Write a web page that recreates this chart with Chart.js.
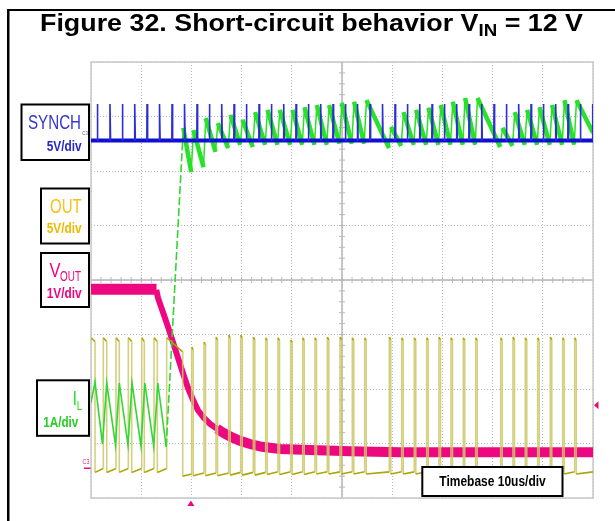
<!DOCTYPE html>
<html><head><meta charset="utf-8">
<script src="https://cdn.jsdelivr.net/npm/chart.js@4"></script>
<style>html,body{margin:0;padding:0;background:#fff;overflow:hidden}canvas{display:block}</style>
</head><body>
<canvas id="c" width="615" height="521"></canvas>
<script>
// ---- data (time in us, amplitude in screen divisions) ----
const synchBase = 6.56;
const synchTop = 7.23;
const synchSpikes = [1.25,3.78,6.24,8.71,11.16,13.65,16.14,18.63,21.12,23.57,26.04,28.49,30.94,33.47,35.92,38.39,40.84,43.29,45.76,48.21,50.66,53.09,55.58,58.07,60.56,63.01,65.48,67.93,70.38,72.85,75.30,77.83,80.28,82.73,85.20,87.65,90.10,92.57,95.02,97.47,99.94];

const ilPre = [[0,1.75],[0.80,2.13],[2.29,0.99],[3.13,2.11],[4.88,0.97],[5.64,2.11],[7.37,0.97],[8.17,2.11],[9.96,0.95],[10.72,2.11],[12.49,0.95],[13.31,2.11],[14.98,0.94],[18.39,6.79]];
const ilPost = [[18.39,6.79],[19.96,5.98],[20.42,6.75],[22.41,6.07],[22.87,6.97],[24.80,6.35],[25.26,6.88],[27.33,6.42],[27.79,7.03],[29.72,6.48],[30.18,6.94],[32.23,6.44],[32.69,7.08],[34.70,6.48],[35.16,7.12],[37.15,6.48],[37.61,7.12],[39.68,6.48],[40.14,7.12],[42.07,6.48],[42.53,7.17],[44.52,6.48],[44.98,7.21],[46.97,6.48],[47.43,7.21],[49.50,6.50],[49.96,7.25],[51.95,6.50],[52.41,7.27],[54.42,6.50],[54.88,7.30],[59.36,6.42],[59.76,6.81],[61.79,6.46],[62.25,7.08],[64.30,6.48],[64.76,7.12],[66.77,6.48],[67.23,7.16],[69.22,6.48],[69.68,7.21],[71.61,6.48],[72.07,7.27],[74.06,6.48],[74.52,7.34],[76.53,6.48],[76.99,7.34],[81.51,6.44],[81.97,6.79],[83.96,6.46],[84.42,7.08],[86.41,6.48],[86.87,7.12],[88.88,6.48],[89.34,7.17],[91.39,6.48],[91.85,7.21],[93.86,6.48],[94.32,7.30],[96.25,6.48],[96.71,7.30],[100,6.70]];

const outRise = [0,2.45,4.98,7.43,10.10,12.55,15.08,20.06,22.51,24.90,27.43,29.82,32.33,34.80,37.25,39.78,42.17,44.62,47.07,49.60,52.05,54.52,59.42,61.89,64.40,66.87,69.32,71.71,74.16,76.63,81.61,84.06,86.51,88.98,91.49,93.96,96.35];
const outFall = [0.80,3.13,5.64,8.11,10.62,13.21,18.27,20.36,22.81,25.20,27.73,30.12,32.63,35.10,37.55,40.08,42.47,44.92,47.37,49.90,52.35,54.82,59.72,62.19,64.70,67.17,69.62,72.01,74.46,76.93,81.91,84.36,86.81,89.28,91.79,94.26,96.65];
const outTop = [2.94,2.94,2.94,2.94,2.94,2.94,2.94,2.77,2.86,2.95,2.99,2.99,2.95,2.94,2.94,2.90,2.94,2.94,2.95,2.95,2.94,2.94,2.95,2.94,2.94,2.94,2.95,2.94,2.94,2.94,2.94,2.95,2.94,2.94,2.95,2.94,2.94];
const outTopEnd = [2.87,2.87,2.87,2.87,2.87,2.87,2.68,2.72,2.81,2.90,2.94,2.94,2.90,2.89,2.89,2.85,2.89,2.89,2.90,2.90,2.89,2.89,2.90,2.89,2.89,2.89,2.90,2.89,2.89,2.89,2.89,2.90,2.89,2.89,2.90,2.89,2.89];
const outLowA = [0.47,0.47,0.47,0.47,0.47,0.47,0.40,0.41,0.41,0.41,0.42,0.42,0.42,0.43,0.43,0.43,0.43,0.44,0.44,0.44,0.44,0.44,0.44,0.44,0.44,0.44,0.44,0.44,0.44,0.44,0.44,0.44,0.44,0.44,0.44,0.44,0.44];
const outLowB = [0.54,0.54,0.54,0.54,0.54,0.54,0.44,0.46,0.46,0.46,0.47,0.47,0.47,0.48,0.48,0.48,0.48,0.48,0.48,0.48,0.48,0.48,0.48,0.48,0.48,0.48,0.48,0.48,0.48,0.48,0.48,0.48,0.48,0.48,0.48,0.48,0.48];

const voutFlat = [[0,3.83],[13.05,3.83]];
const voutDecay = [[13.0,3.82],[13.35,3.67],[14.34,3.41],[15.34,3.14],[16.33,2.86],[17.33,2.57],[18.33,2.29],[19.32,2.02],[20.32,1.80],[21.31,1.61],[22.51,1.47],[23.71,1.36],[25.10,1.27],[26.49,1.19],[27.89,1.12],[29.68,1.05],[31.67,0.99],[34.06,0.94],[37.65,0.90],[43.63,0.88],[51.59,0.86],[61.55,0.84],[100,0.84]];

// ---- build point lists ----
const P = a => a.map(p => ({x:p[0], y:p[1]}));
const blueBase = [{x:0,y:synchBase},{x:100,y:synchBase}];
const blueSp = [];
synchSpikes.forEach(t => {
  blueSp.push({x:t-0.04,y:synchBase},{x:t,y:synchTop},{x:t+0.12,y:synchBase+0.02},{x:t+0.13,y:null});
});
const outPts = [];
outRise.forEach((r,i) => {
  if (i === 0) outPts.push({x:r,y:outTop[0]});
  else { outPts.push({x:r,y:outLowB[i-1]}); outPts.push({x:r,y:outTop[i]}); }
  outPts.push({x:outFall[i],y:outTopEnd[i]});
  outPts.push({x:outFall[i],y:outLowA[i]});
});
outPts.push({x:100,y:outLowB[outLowB.length-1]});

const PINK = 'rgb(238,8,128)';
const GREEN = 'rgb(40,225,40)';

function txt(ctx, s, x, y, size, bold, color, w) {
  ctx.save();
  ctx.font = (bold ? 'bold ' : '') + size + 'px "Liberation Sans", Arial, sans-serif';
  ctx.fillStyle = color; ctx.textBaseline = 'alphabetic'; ctx.textAlign = 'left';
  const m = ctx.measureText(s).width;
  const sx = w ? w / m : 1;
  ctx.translate(x, y); ctx.scale(sx, 1); ctx.fillText(s, 0, 0);
  ctx.restore();
}
function box(ctx, x, y, w, h) {
  ctx.save(); ctx.fillStyle = '#fff'; ctx.fillRect(x, y, w, h);
  ctx.strokeStyle = '#000'; ctx.lineWidth = 2; ctx.strokeRect(x, y, w, h); ctx.restore();
}

const scopePlugin = {
  id: 'scope',
  beforeDatasetsDraw(chart) {
    const ctx = chart.ctx, xs = chart.scales.x, ys = chart.scales.y;
    const L = xs.getPixelForValue(0), R = xs.getPixelForValue(100);
    const T = ys.getPixelForValue(8), B = ys.getPixelForValue(0);
    const cx = xs.getPixelForValue(50), cy = ys.getPixelForValue(4);
    ctx.save();
    ctx.strokeStyle = '#b8b8b8'; ctx.lineWidth = 1.5;
    ctx.beginPath(); ctx.moveTo(cx, T); ctx.lineTo(cx, B); ctx.moveTo(L, cy); ctx.lineTo(R, cy); ctx.stroke();
    ctx.lineWidth = 1;
    ctx.beginPath();
    for (let v = 0.2; v < 8; v += 0.2) { const y = ys.getPixelForValue(v); ctx.moveTo(cx-3, y); ctx.lineTo(cx+3, y); }
    for (let t = 2; t < 100; t += 2) { const x = xs.getPixelForValue(t); ctx.moveTo(x, cy-3); ctx.lineTo(x, cy+3); }
    ctx.stroke();
    ctx.strokeStyle = '#c8c8c8'; ctx.lineWidth = 1.5;
    ctx.strokeRect(L, T, R-L, B-T);
    ctx.restore();
  },
  afterDatasetsDraw(chart) {
    const ctx = chart.ctx, xs = chart.scales.x, ys = chart.scales.y;
    ctx.save();
    // frame
    ctx.fillStyle = '#000';
    ctx.fillRect(7, 9, 608, 2);
    ctx.fillRect(7, 9, 2.5, 512);
    // title
    const f1 = 'bold 23px "Liberation Sans", Arial, sans-serif';
    const f2 = 'bold 16px "Liberation Sans", Arial, sans-serif';
    const a = 'Figure 32. Short-circuit behavior V', b = 'IN', c = ' = 12 V';
    ctx.font = f1; const w1 = ctx.measureText(a).width, w3 = ctx.measureText(c).width;
    ctx.font = f2; const w2 = ctx.measureText(b).width;
    const sc = 543 / (w1 + w2 + w3);
    ctx.translate(40, 31); ctx.scale(sc, 1);
    ctx.fillStyle = '#000';
    ctx.font = f1; ctx.fillText(a, 0, 0);
    ctx.font = f2; ctx.fillText(b, w1, 5);
    ctx.font = f1; ctx.fillText(c, w1 + w2, 0);
    ctx.restore();

    // label boxes
    box(ctx, 21.5, 104.5, 67.5, 55.5);
    txt(ctx, 'SYNCH', 28, 129, 19.5, false, '#3636cc', 53);
    txt(ctx, '5V/div', 46.7, 150.7, 14.5, true, '#2828c8', 35);
    txt(ctx, 'C3', 82.3, 135, 6, false, '#6060a8', 5.5);
    box(ctx, 41, 188.5, 48, 55);
    txt(ctx, 'OUT', 50, 213.3, 19.5, false, '#f7c21a', 31.7);
    txt(ctx, '5V/div', 46.7, 233.3, 14.5, true, '#f2b900', 35);
    box(ctx, 41, 253, 48, 54);
    txt(ctx, 'V', 49.5, 276.7, 21, false, PINK, 11);
    txt(ctx, 'OUT', 60, 280.5, 14, false, PINK, 21);
    txt(ctx, '1V/div', 46.7, 298, 14.5, true, PINK, 35);
    box(ctx, 37, 380.3, 52, 55.5);
    txt(ctx, 'I', 72.6, 405, 20, false, GREEN, 4.5);
    txt(ctx, 'L', 76.8, 410, 12, false, GREEN, 5.5);
    txt(ctx, '1A/div', 43.3, 426.7, 14.5, true, 'rgb(40,205,40)', 35);
    txt(ctx, 'C3', 82.5, 464, 7, false, '#c03080', 7);
    ctx.save(); ctx.fillStyle = PINK; ctx.fillRect(84, 467.5, 6.5, 1.5); ctx.restore();

    box(ctx, 422.3, 467, 140.2, 29);
    txt(ctx, 'Timebase 10us/div', 439.3, 486, 15, true, '#000', 106.4);

    // markers
    ctx.save(); ctx.fillStyle = PINK;
    const mx = xs.getPixelForValue(100), my = ys.getPixelForValue(1.70);
    ctx.beginPath(); ctx.moveTo(mx + 1, my); ctx.lineTo(mx + 5.5, my - 4); ctx.lineTo(mx + 5.5, my + 4); ctx.closePath(); ctx.fill();
    const tx = xs.getPixelForValue(19.9), ty = ys.getPixelForValue(0);
    ctx.beginPath(); ctx.moveTo(tx, ty + 2.5); ctx.lineTo(tx - 3.5, ty + 8); ctx.lineTo(tx + 3.5, ty + 8); ctx.closePath(); ctx.fill();
    ctx.restore();
  }
};

const common = {pointRadius: 0, tension: 0, fill: false, spanGaps: false};
new Chart(document.getElementById('c'), {
  type: 'line',
  data: {
    datasets: [
      Object.assign({data: blueSp, borderColor: 'rgb(45,45,215)', borderWidth: 1.6}, common),
      Object.assign({data: blueBase, borderColor: 'rgb(15,15,210)', borderWidth: 4}, common),
      Object.assign({data: P(ilPost), borderColor: GREEN, borderWidth: 3.5,
        segment: {borderWidth: c => (c.p1.y > c.p0.y ? 4.5 : 1.5)}}, common),
      Object.assign({data: P(ilPre), borderColor: 'rgb(50,215,50)', borderWidth: 1.6,
        segment: {borderDash: c => (c.p0.y - c.p1.y > 100 ? [8, 3] : undefined)}}, common),
      Object.assign({data: outPts, borderColor: 'rgb(172,165,5)', borderWidth: 1.6,
        segment: {borderColor: c => (Math.abs(c.p1.x - c.p0.x) < 0.5 ? 'rgba(205,200,105,0.85)' : undefined)}}, common),
      Object.assign({data: P(voutDecay.filter(p => p[0] >= 25)), borderColor: PINK, borderWidth: 10}, common),
      Object.assign({data: P(voutDecay), borderColor: PINK, borderWidth: 6}, common),
      Object.assign({data: P(voutFlat), borderColor: PINK, borderWidth: 11, borderCapStyle: 'butt'}, common)
    ]
  },
  options: {
    responsive: false, animation: false, devicePixelRatio: 1,
    layout: {padding: {left: 91, top: 62, right: 22, bottom: 23}},
    plugins: {legend: {display: false}, tooltip: {enabled: false}, title: {display: false}},
    scales: {
      x: {type: 'linear', min: 0, max: 100, ticks: {display: false, stepSize: 10},
          grid: {color: '#b8b8b8', lineWidth: 1, drawTicks: false}, border: {display: false, dash: [1, 2]}},
      y: {type: 'linear', min: 0, max: 8, ticks: {display: false, stepSize: 1},
          grid: {color: '#b8b8b8', lineWidth: 1, drawTicks: false}, border: {display: false, dash: [1, 2]}}
    }
  },
  plugins: [scopePlugin]
});
</script>
</body></html>
